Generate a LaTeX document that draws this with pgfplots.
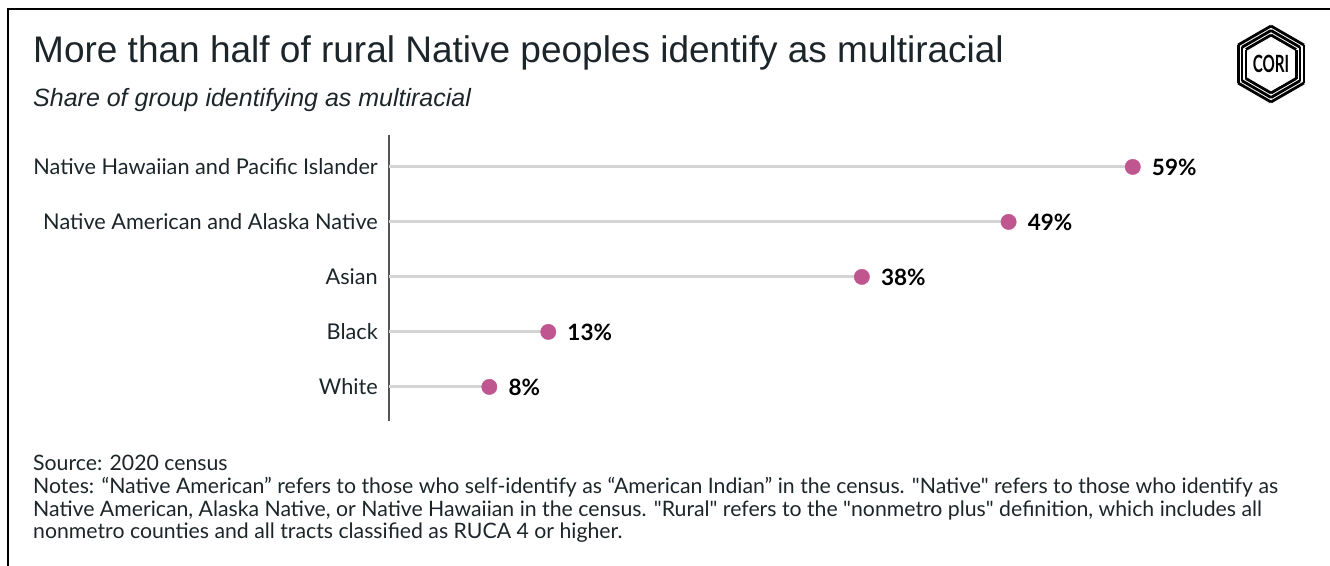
\documentclass[border=0pt]{standalone}
\usepackage{pgfplots}
\pgfplotsset{compat=1.18}
\usepackage{fontspec}
\setmainfont{Lato}[Ligatures=TeXOff]
\newfontfamily\titlefont{Liberation Sans}
\definecolor{txt}{HTML}{1C2529}
\definecolor{dotc}{HTML}{C0568F}
\definecolor{stem}{HTML}{D4D4D4}
\definecolor{axisc}{HTML}{555555}
\begin{document}
\begin{tikzpicture}[x=1pt,y=1pt]
\path[use as bounding box] (0,0) rectangle (1330,-565);
\draw[line width=2.5pt, black] (8,-566) -- (8,-9) -- (1331,-9);
\node[anchor=base west, inner sep=0pt, text=txt] at (33,-62) {\titlefont\fontsize{37}{44}\selectfont More than half of rural Native peoples identify as multiracial};
\node[anchor=base west, inner sep=0pt, text=txt] at (33,-106) {\titlefont\itshape\fontsize{25}{30}\selectfont Share of group identifying as multiracial};
% logo
\begin{scope}[shift={(1271,-64)}]
\foreach \r in {38,33.5,29}{
  \foreach \a in {30,90,...,330}{
    \draw[line width=2.8pt, black] ({\r*cos(\a)},{\r*sin(\a)}) -- ({\r*cos(\a+60)},{\r*sin(\a+60)});
  }
}
\fill[white] (0,0) circle (23.5);
\node[inner sep=0pt] at (0,0) {\scalebox{0.8}[1.25]{\fontsize{19}{22}\selectfont\bfseries CORI}};
\end{scope}
\begin{axis}[
  at={(389pt,-421pt)}, anchor=south west,
  scale only axis, width=878pt, height=286pt,
  xmin=0, xmax=70, ymin=0.38, ymax=5.58,
  axis x line=none, axis y line=left,
  y axis line style={-, draw=axisc, line width=1.4pt},
  ytick={1,2,3,4,5},
  yticklabels={White,Black,Asian,Native American and Alaska Native,Native Hawaiian and Pacific Islander},
  major tick length=0pt,
  yticklabel style={font=\fontsize{21.7}{26}\selectfont, text=txt, inner sep=0pt, xshift=-11pt},
  clip=false,
]
\addplot[xcomb, draw=stem, line width=3pt] coordinates {(8.0,1) (12.7,2) (37.7,3) (49.4,4) (59.3,5)};
\addplot[only marks, mark=*, mark size=7.7pt, mark options={draw=dotc, fill=dotc},
  point meta=explicit symbolic, nodes near coords,
  nodes near coords style={anchor=west, xshift=19pt, inner sep=0pt, text=black, font=\bfseries\fontsize{22.5}{27}\selectfont}]
  coordinates {(8.0,1) [8\%] (12.7,2) [13\%] (37.7,3) [38\%] (49.4,4) [49\%] (59.3,5) [59\%]};
\end{axis}
\begin{scope}[every node/.style={anchor=base west, inner sep=0pt, text=txt, font=\fontsize{21.25}{25}\selectfont}]
\node at (33,-470) {Source: 2020 census};
\node at (33,-493) {Notes: “Native American” refers to those who self-identify as “American Indian” in the census. "Native" refers to those who identify as};
\node at (33,-516) {Native American, Alaska Native, or Native Hawaiian in the census. "Rural" refers to the "nonmetro plus" definition, which includes all};
\node at (33,-538) {nonmetro counties and all tracts classified as RUCA 4 or higher.};
\end{scope}
\end{tikzpicture}
\end{document}
